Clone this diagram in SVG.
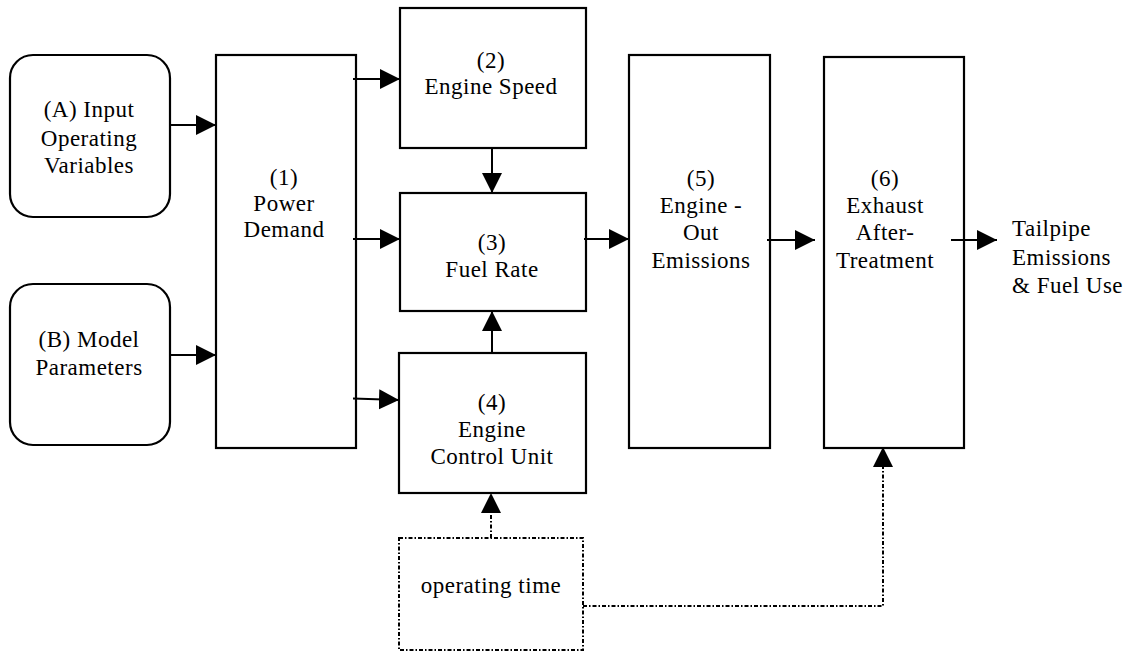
<svg xmlns="http://www.w3.org/2000/svg" width="1131" height="652" viewBox="0 0 1131 652">
<style>
.box{fill:#fff;stroke:#000;stroke-width:2.2}
.dot{fill:none;stroke:#000;stroke-width:2;stroke-dasharray:4 2 1.5 2}
.ln{fill:none;stroke:#000;stroke-width:2}
.t{font-family:'Liberation Serif','DejaVu Serif',serif;font-size:23px;letter-spacing:0.5px;fill:#000;text-anchor:middle}
.s{text-anchor:start}
</style>
<defs>
<marker id="ah" markerUnits="userSpaceOnUse" markerWidth="22" markerHeight="22" refX="20" refY="10" orient="auto">
<path d="M0,0 L20,10 L0,20 z" fill="#000"/>
</marker>
</defs>
<g id="nodeA"><rect class="box" x="10" y="55" width="160" height="162" rx="23"/>
<text class="t" x="89" y="117">(A) Input</text><text class="t" x="89" y="146">Operating</text><text class="t" x="89" y="173">Variables</text></g>
<g id="nodeB"><rect class="box" x="10" y="284" width="160" height="161" rx="23"/>
<text class="t" x="89" y="347">(B) Model</text><text class="t" x="89" y="375">Parameters</text></g>
<g id="node1"><rect class="box" x="216" y="55" width="140" height="393"/>
<text class="t" x="284" y="185">(1)</text><text class="t" x="284" y="211">Power</text><text class="t" x="284" y="237">Demand</text></g>
<g id="node2"><rect class="box" x="400" y="8" width="186" height="140"/>
<text class="t" x="491" y="68">(2)</text><text class="t" x="491" y="94">Engine Speed</text></g>
<g id="node3"><rect class="box" x="400" y="193" width="186" height="118"/>
<text class="t" x="492" y="250">(3)</text><text class="t" x="492" y="277">Fuel Rate</text></g>
<g id="node4"><rect class="box" x="399" y="353" width="187" height="140"/>
<text class="t" x="492" y="410">(4)</text><text class="t" x="492" y="437">Engine</text><text class="t" x="492" y="464">Control Unit</text></g>
<g id="node5"><rect class="box" x="629" y="55" width="141" height="393"/>
<text class="t" x="701" y="186">(5)</text><text class="t" x="701" y="213">Engine -</text><text class="t" x="701" y="240">Out</text><text class="t" x="701" y="268">Emissions</text></g>
<g id="node6"><rect class="box" x="824" y="57" width="140" height="391"/>
<text class="t" x="885" y="186">(6)</text><text class="t" x="885" y="213">Exhaust</text><text class="t" x="885" y="240">After-</text><text class="t" x="885" y="268">Treatment</text></g>
<g id="nodeT"><rect class="dot" x="399" y="538" width="184" height="112"/>
<text class="t" x="491" y="593">operating time</text></g>
<g id="output"><text class="t s" x="1012" y="236">Tailpipe</text><text class="t s" x="1012" y="265">Emissions</text><text class="t s" x="1012" y="293">&amp; Fuel Use</text></g>
<g id="connectors">
<line class="ln" x1="170" y1="125" x2="216" y2="125" marker-end="url(#ah)"/>
<line class="ln" x1="170" y1="355" x2="216" y2="355" marker-end="url(#ah)"/>
<line class="ln" x1="353" y1="79" x2="400" y2="79" marker-end="url(#ah)"/>
<line class="ln" x1="353" y1="239" x2="400" y2="239" marker-end="url(#ah)"/>
<line class="ln" x1="353" y1="398.5" x2="399" y2="400" marker-end="url(#ah)"/>
<line class="ln" x1="492" y1="148" x2="492" y2="193" marker-end="url(#ah)"/>
<line class="ln" x1="492" y1="353" x2="492" y2="311" marker-end="url(#ah)"/>
<line class="ln" x1="584" y1="239" x2="629" y2="239" marker-end="url(#ah)"/>
<line class="ln" x1="767" y1="240" x2="815" y2="240" marker-end="url(#ah)"/>
<line class="ln" x1="951" y1="240" x2="997" y2="240" marker-end="url(#ah)"/>
<line class="dot" x1="491" y1="538" x2="491" y2="493" marker-end="url(#ah)"/>
<polyline class="dot" points="583,606 883,606 883,447" marker-end="url(#ah)"/>
</g>
</svg>
